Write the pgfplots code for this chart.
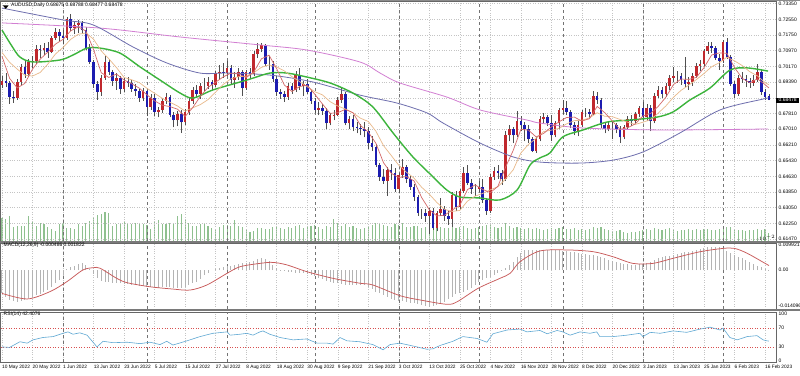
\documentclass[border=0pt]{standalone}
\usepackage{fontspec}
\setmainfont{Liberation Sans}
\usepackage{pgfplots}
\usepackage{pgfplotstable}
\pgfplotsset{compat=1.18}
\definecolor{bullc}{HTML}{C0282D}
\definecolor{bearc}{HTML}{1C1CB0}
\definecolor{wickc}{HTML}{505050}
\definecolor{volc}{HTML}{8FC08F}
\definecolor{gridc}{HTML}{C4C4C4}
\definecolor{sepc}{HTML}{7A7A7A}
\definecolor{maP}{HTML}{D27FD2}
\definecolor{maB}{HTML}{6E6EAE}
\definecolor{maG}{HTML}{3CB43C}
\definecolor{maT}{HTML}{E9B98A}
\definecolor{maR}{HTML}{D46A6A}
\definecolor{histc}{HTML}{B4B4B4}
\definecolor{sigc}{HTML}{C85A5A}
\definecolor{rsic}{HTML}{5FA8D3}
\definecolor{lvlc}{HTML}{D85050}
\newcommand\tf{\fontsize{5}{6}\selectfont}
\newcommand\df{\fontsize{4.8}{5.5}\selectfont}

\pgfplotstableread{
i o h l c v m
0 0.6925 0.6970 0.6910 0.6945 23 -0.0092
1 0.6945 0.6985 0.6915 0.6935 22 -0.0105
2 0.6935 0.6945 0.6830 0.6865 25 -0.0118
3 0.6865 0.6895 0.6835 0.6858 14 -0.0122
4 0.6858 0.6955 0.6850 0.6940 15 -0.0125
5 0.6940 0.7030 0.6925 0.7015 15 -0.0121
6 0.7015 0.7050 0.6960 0.6980 15 -0.0118
7 0.6980 0.7055 0.6965 0.7040 25 -0.0112
8 0.7040 0.7070 0.7010 0.7045 20 -0.0105
9 0.7045 0.7125 0.7030 0.7105 15 -0.0100
10 0.7105 0.7125 0.7060 0.7100 18 -0.0095
11 0.7100 0.7135 0.7075 0.7110 17 -0.0088
12 0.7110 0.7140 0.7060 0.7090 14 -0.0078
13 0.7090 0.7170 0.7085 0.7160 12 -0.0066
14 0.7160 0.7210 0.7150 0.7190 10 -0.0050
15 0.7190 0.7205 0.7145 0.7170 17 -0.0040
16 0.7170 0.7200 0.7130 0.7160 18 -0.0020
17 0.7160 0.7265 0.7150 0.7255 13 0.0005
18 0.7255 0.7283 0.7195 0.7210 13 0.0010
19 0.7210 0.7245 0.7180 0.7225 12 0.0015
20 0.7225 0.7250 0.7185 0.7235 17 0.0022
21 0.7235 0.7245 0.7180 0.7200 15 0.0026
22 0.7200 0.7215 0.7100 0.7110 18 0.0020
23 0.7110 0.7130 0.7030 0.7040 20 0.0002
24 0.7040 0.7050 0.6910 0.6930 23 -0.0015
25 0.6930 0.6945 0.6850 0.6890 26 -0.0033
26 0.6890 0.6975 0.6870 0.6960 27 -0.0042
27 0.6960 0.7070 0.6950 0.7040 29 -0.0046
28 0.7040 0.7055 0.6975 0.6990 28 -0.0048
29 0.6990 0.7000 0.6920 0.6945 15 -0.0050
30 0.6945 0.6985 0.6900 0.6960 17 -0.0050
31 0.6960 0.6970 0.6880 0.6905 18 -0.0052
32 0.6905 0.6960 0.6890 0.6945 20 -0.0054
33 0.6945 0.6965 0.6915 0.6935 17 -0.0056
34 0.6935 0.6950 0.6890 0.6905 17 -0.0058
35 0.6905 0.6930 0.6870 0.6895 18 -0.0060
36 0.6895 0.6905 0.6840 0.6860 18 -0.0062
37 0.6860 0.6910 0.6845 0.6895 17 -0.0064
38 0.6895 0.6900 0.6765 0.6815 16 -0.0066
39 0.6815 0.6880 0.6800 0.6860 12 -0.0068
40 0.6860 0.6880 0.6765 0.6790 20 -0.0068
41 0.6790 0.6815 0.6760 0.6800 21 -0.0070
42 0.6800 0.6860 0.6785 0.6845 17 -0.0068
43 0.6845 0.6885 0.6830 0.6865 17 -0.0066
44 0.6865 0.6875 0.6760 0.6775 18 -0.0068
45 0.6775 0.6790 0.6710 0.6745 18 -0.0070
46 0.6745 0.6795 0.6715 0.6780 25 -0.0070
47 0.6780 0.6800 0.6681 0.6735 27 -0.0070
48 0.6735 0.6805 0.6720 0.6790 22 -0.0066
49 0.6790 0.6865 0.6775 0.6845 18 -0.0060
50 0.6845 0.6915 0.6830 0.6900 15 -0.0052
51 0.6900 0.6925 0.6860 0.6880 15 -0.0046
52 0.6880 0.6935 0.6855 0.6920 17 -0.0036
53 0.6920 0.6960 0.6895 0.6920 17 -0.0020
54 0.6920 0.6965 0.6905 0.6940 15 -0.0010
55 0.6940 0.6950 0.6900 0.6925 13 0.0000
56 0.6925 0.6995 0.6915 0.6985 12 0.0005
57 0.6985 0.7025 0.6950 0.6990 14 0.0008
58 0.6990 0.7035 0.6960 0.6985 16 0.0012
59 0.6985 0.7045 0.6970 0.7010 16 0.0014
60 0.7010 0.7025 0.6925 0.6950 15 0.0016
61 0.6950 0.6990 0.6910 0.6965 21 0.0020
62 0.6965 0.7010 0.6950 0.6990 15 0.0024
63 0.6990 0.7000 0.6870 0.6910 14 0.0026
64 0.6910 0.7000 0.6900 0.6990 12 0.0028
65 0.6990 0.7010 0.6960 0.6980 9 0.0033
66 0.6980 0.7095 0.6970 0.7080 10 0.0036
67 0.7080 0.7135 0.7060 0.7105 13 0.0042
68 0.7105 0.7137 0.7090 0.7125 13 0.0046
69 0.7125 0.7130 0.7020 0.7030 12 0.0042
70 0.7030 0.7070 0.7000 0.7030 12 0.0034
71 0.7030 0.7045 0.6940 0.6955 14 0.0020
72 0.6955 0.6970 0.6870 0.6890 15 0.0006
73 0.6890 0.6905 0.6855 0.6880 13 -0.0002
74 0.6880 0.6895 0.6840 0.6865 12 -0.0005
75 0.6865 0.6935 0.6850 0.6920 14 -0.0007
76 0.6920 0.6935 0.6880 0.6900 13 -0.0009
77 0.6900 0.6995 0.6890 0.6975 15 -0.0011
78 0.6975 0.7010 0.6900 0.6920 16 -0.0012
79 0.6920 0.6945 0.6870 0.6930 13 -0.0013
80 0.6930 0.6955 0.6880 0.6890 14 -0.0014
81 0.6890 0.6900 0.6830 0.6845 15 -0.0018
82 0.6845 0.6860 0.6785 0.6800 16 -0.0024
83 0.6800 0.6840 0.6770 0.6810 14 -0.0030
84 0.6810 0.6830 0.6775 0.6795 12 -0.0036
85 0.6795 0.6810 0.6700 0.6730 15 -0.0042
86 0.6730 0.6785 0.6720 0.6770 14 -0.0046
87 0.6770 0.6800 0.6745 0.6775 22 -0.0050
88 0.6775 0.6865 0.6765 0.6850 18 -0.0052
89 0.6850 0.6915 0.6835 0.6880 15 -0.0055
90 0.6880 0.6890 0.6720 0.6730 17 -0.0058
91 0.6730 0.6765 0.6700 0.6750 14 -0.0059
92 0.6750 0.6770 0.6690 0.6710 15 -0.0059
93 0.6710 0.6735 0.6680 0.6705 13 -0.0059
94 0.6705 0.6725 0.6670 0.6700 12 -0.0060
95 0.6700 0.6735 0.6660 0.6690 13 -0.0060
96 0.6690 0.6710 0.6600 0.6630 15 -0.0066
97 0.6630 0.6665 0.6590 0.6610 16 -0.0075
98 0.6610 0.6625 0.6510 0.6520 18 -0.0085
99 0.6520 0.6530 0.6440 0.6460 17 -0.0092
100 0.6460 0.6500 0.6425 0.6440 16 -0.0100
101 0.6440 0.6510 0.6365 0.6495 15 -0.0108
102 0.6495 0.6525 0.6445 0.6480 14 -0.0113
103 0.6480 0.6505 0.6385 0.6400 17 -0.0118
104 0.6400 0.6480 0.6380 0.6470 16 -0.0122
105 0.6470 0.6550 0.6455 0.6510 18 -0.0124
106 0.6510 0.6520 0.6430 0.6450 14 -0.0126
107 0.6450 0.6465 0.6395 0.6410 14 -0.0128
108 0.6410 0.6425 0.6340 0.6360 15 -0.0130
109 0.6360 0.6370 0.6265 0.6280 15 -0.0132
110 0.6280 0.6300 0.6250 0.6280 13 -0.0136
111 0.6280 0.6300 0.6235 0.6265 14 -0.0140
112 0.6265 0.6305 0.6170 0.6290 17 -0.0144
113 0.6290 0.6305 0.6190 0.6200 16 -0.0142
114 0.6200 0.6290 0.6185 0.6280 13 -0.0138
115 0.6280 0.6355 0.6265 0.6300 14 -0.0132
116 0.6300 0.6315 0.6240 0.6265 13 -0.0125
117 0.6265 0.6290 0.6220 0.6250 13 -0.0115
118 0.6250 0.6385 0.6210 0.6370 15 -0.0105
119 0.6370 0.6390 0.6290 0.6310 13 -0.0096
120 0.6310 0.6400 0.6295 0.6390 14 -0.0090
121 0.6390 0.6510 0.6380 0.6480 15 -0.0085
122 0.6480 0.6520 0.6420 0.6430 13 -0.0078
123 0.6430 0.6450 0.6375 0.6400 12 -0.0072
124 0.6400 0.6425 0.6365 0.6400 13 -0.0060
125 0.6400 0.6440 0.6385 0.6410 14 -0.0046
126 0.6410 0.6450 0.6330 0.6345 15 -0.0040
127 0.6345 0.6355 0.6270 0.6290 16 -0.0033
128 0.6290 0.6475 0.6280 0.6460 17 -0.0026
129 0.6460 0.6510 0.6445 0.6490 14 -0.0020
130 0.6490 0.6520 0.6450 0.6480 13 -0.0013
131 0.6480 0.6495 0.6420 0.6450 14 -0.0005
132 0.6450 0.6690 0.6440 0.6670 18 0.0007
133 0.6670 0.6720 0.6640 0.6700 15 0.0020
134 0.6700 0.6710 0.6630 0.6670 13 0.0033
135 0.6670 0.6795 0.6660 0.6740 14 0.0050
136 0.6740 0.6765 0.6690 0.6720 13 0.0066
137 0.6720 0.6735 0.6640 0.6700 12 0.0079
138 0.6700 0.6720 0.6630 0.6650 13 0.0080
139 0.6650 0.6660 0.6585 0.6590 12 0.0080
140 0.6590 0.6660 0.6580 0.6650 13 0.0080
141 0.6650 0.6765 0.6640 0.6750 12 0.0079
142 0.6750 0.6785 0.6730 0.6760 11 0.0079
143 0.6760 0.6775 0.6715 0.6730 12 0.0079
144 0.6730 0.6770 0.6640 0.6670 13 0.0079
145 0.6670 0.6740 0.6660 0.6730 12 0.0078
146 0.6730 0.6810 0.6700 0.6800 13 0.0077
147 0.6800 0.6850 0.6780 0.6810 14 0.0076
148 0.6810 0.6845 0.6770 0.6790 12 0.0075
149 0.6790 0.6800 0.6705 0.6720 12 0.0072
150 0.6720 0.6735 0.6670 0.6690 13 0.0070
151 0.6690 0.6740 0.6665 0.6720 11 0.0066
152 0.6720 0.6800 0.6710 0.6790 12 0.0064
153 0.6790 0.6810 0.6760 0.6790 11 0.0062
154 0.6790 0.6805 0.6755 0.6780 12 0.0060
155 0.6780 0.6895 0.6770 0.6870 14 0.0059
156 0.6870 0.6890 0.6830 0.6850 13 0.0055
157 0.6850 0.6860 0.6705 0.6720 14 0.0050
158 0.6720 0.6735 0.6680 0.6700 12 0.0046
159 0.6700 0.6735 0.6690 0.6720 11 0.0040
160 0.6720 0.6740 0.6650 0.6720 10 0.0034
161 0.6720 0.6730 0.6680 0.6700 10 0.0030
162 0.6700 0.6715 0.6630 0.6660 11 0.0026
163 0.6660 0.6720 0.6650 0.6710 9 0.0024
164 0.6710 0.6765 0.6700 0.6750 8 0.0022
165 0.6750 0.6770 0.6715 0.6740 9 0.0020
166 0.6740 0.6790 0.6730 0.6780 9 0.0020
167 0.6780 0.6820 0.6760 0.6810 10 0.0022
168 0.6810 0.6840 0.6745 0.6760 11 0.0024
169 0.6760 0.6830 0.6740 0.6810 12 0.0026
170 0.6810 0.6825 0.6690 0.6740 11 0.0032
171 0.6740 0.6885 0.6730 0.6870 13 0.0040
172 0.6870 0.6920 0.6860 0.6900 12 0.0046
173 0.6900 0.6915 0.6860 0.6880 11 0.0050
174 0.6880 0.6935 0.6865 0.6920 12 0.0054
175 0.6920 0.6975 0.6900 0.6960 13 0.0057
176 0.6960 0.7015 0.6940 0.6970 12 0.0059
177 0.6970 0.6995 0.6935 0.6970 10 0.0063
178 0.6970 0.6985 0.6925 0.6950 11 0.0066
179 0.6950 0.7065 0.6915 0.6930 11 0.0070
180 0.6930 0.6965 0.6900 0.6940 12 0.0072
181 0.6940 0.6985 0.6920 0.6970 11 0.0075
182 0.6970 0.7035 0.6960 0.7020 12 0.0078
183 0.7020 0.7050 0.6995 0.7030 11 0.0083
184 0.7030 0.7105 0.7015 0.7095 12 0.0086
185 0.7095 0.7142 0.7080 0.7120 12 0.0089
186 0.7120 0.7140 0.7085 0.7110 11 0.0092
187 0.7110 0.7120 0.7050 0.7060 11 0.0092
188 0.7060 0.7080 0.7000 0.7045 12 0.0092
189 0.7045 0.7150 0.7035 0.7140 13 0.0085
190 0.7140 0.7161 0.7055 0.7065 14 0.0075
191 0.7065 0.7075 0.6920 0.6930 14 0.0065
192 0.6930 0.6945 0.6858 0.6880 12 0.0059
193 0.6880 0.6975 0.6870 0.6960 11 0.0052
194 0.6960 0.6990 0.6935 0.6955 11 0.0046
195 0.6955 0.6975 0.6915 0.6945 10 0.0040
196 0.6945 0.6960 0.6910 0.6935 11 0.0033
197 0.6935 0.6975 0.6920 0.6950 11 0.0022
198 0.6950 0.7030 0.6940 0.6990 12 0.0017
199 0.6990 0.7000 0.6875 0.6890 11 0.0010
200 0.6890 0.6905 0.6850 0.6865 12 0.0003
201 0.68675 0.68788 0.68477 0.68478 8 -0.0005
}\bars

\pgfplotsset{
  mtpanel/.style={
    scale only axis, width=776pt,
    xmin=-0.524, xmax=202.88,
    axis line style={black!60, line width=0.5pt},
    xtick={0,8,...,200},
    xticklabels={},
    xmajorgrids,
    grid style={gridc, dotted, line width=0.45pt},
    extra x ticks={16,38,59,82,104,125,147,168,189},
    extra x tick labels={},
    extra x tick style={grid=major, major grid style={black!55, dashed, line width=0.5pt}},
    major tick length=0pt,
    ytick pos=right, yticklabel pos=right,
    yticklabel style={font=\tf, anchor=west, inner sep=0pt, xshift=2.5pt},
    /pgf/number format/assume math mode=true,
  },
  candle/.style 2 args={draw=none, mark=none, forget plot,
    error bars/.cd, y dir=plus, y explicit, error mark=none,
    error bar style={draw=#1, solid, line width=#2}},
}

\begin{document}
\begin{tikzpicture}[x=1pt,y=1pt]
\useasboundingbox (0,0) rectangle (800,375);
\fill[white] (0,0) rectangle (800,375);

% volume (own scale, in points of height)
\begin{axis}[scale only axis, width=776pt, height=240pt, at={(0pt,134pt)}, anchor=south west,
  xmin=-0.524, xmax=202.88, ymin=0, ymax=240, axis lines=none]
\addplot[ycomb, volc, line width=1.1pt, mark=none] table[x=i, y=v]{\bars};
\end{axis}

% price panel
\begin{axis}[mtpanel, at={(0pt,134pt)}, anchor=south west, height=240pt,
  ymin=0.61369, ymax=0.73476, ymajorgrids, clip mode=individual,
  ytick={0.7335,0.7255,0.7175,0.7097,0.7017,0.6939,0.6859,0.6781,0.6701,0.6621,0.6543,0.6463,0.6385,0.6305,0.6225,0.6147},
  yticklabels={0.73350,0.72550,0.71750,0.70970,0.70170,0.69390,{},0.67810,0.67010,0.66210,0.65430,0.64630,0.63850,0.63050,0.62250,0.61470}]
\addplot[candle={wickc}{0.5pt}]
  table[x=i, y=l, y error plus expr={\thisrow{h}-\thisrow{l}}]{\bars};
\addplot[restrict expr to domain={\thisrow{c}-\thisrow{o}}{0:1}, candle={bullc}{2.6pt}]
  table[x=i, y=o, y error plus expr={\thisrow{c}-\thisrow{o}}]{\bars};
\addplot[restrict expr to domain={\thisrow{o}-\thisrow{c}}{0.000001:1}, candle={bearc}{2.6pt}]
  table[x=i, y=c, y error plus expr={\thisrow{o}-\thisrow{c}}]{\bars};
% long moving averages
\addplot[maP, line width=0.8pt, smooth] coordinates {(0,0.7237)(25.7,0.7211)(46.7,0.7166)(67.6,0.7126)(80,0.7100)(93.8,0.7040)(99.1,0.6984)(104.3,0.6934)(116.6,0.6863)(125.3,0.6798)(137.6,0.6747)(141,0.6732)(152.3,0.6707)(173.3,0.6697)(200.8,0.6702)};
\addplot[maB, line width=0.8pt, smooth] coordinates {(0,0.7312)(16,0.7252)(23.9,0.7227)(34.3,0.7116)(43.2,0.7035)(51.9,0.6984)(59,0.6984)(70.2,0.6974)(81.5,0.6939)(93.8,0.6873)(103.5,0.6833)(111.4,0.6783)(115.6,0.6732)(125.3,0.6631)(134,0.6561)(141,0.6535)(151.5,0.6530)(160.2,0.6545)(168,0.6586)(177.7,0.6682)(188.2,0.6798)(199.5,0.6853)(200.8,0.6858)};
\addplot[maG, line width=1.4pt, smooth] coordinates {(0,0.7201)(2.4,0.7126)(4.7,0.7065)(8.1,0.7040)(15.2,0.7050)(18.6,0.7075)(22.3,0.7110)(25.7,0.7110)(30.9,0.7085)(36.2,0.7015)(41.4,0.6949)(46.7,0.6883)(50.1,0.6858)(55.3,0.6899)(64.2,0.6949)(70.2,0.6984)(74.7,0.6984)(79.9,0.6964)(86,0.6934)(92,0.6883)(97.2,0.6813)(102.5,0.6682)(107.7,0.6561)(113,0.6460)(116.6,0.6394)(120,0.6359)(125.3,0.6354)(130.5,0.6344)(135,0.6394)(138.4,0.6520)(141,0.6556)(143.6,0.6581)(147,0.6662)(152.3,0.6697)(158.6,0.6737)(164.6,0.6747)(171.7,0.6762)(175.9,0.6788)(180.3,0.6848)(185.6,0.6909)(190.8,0.6999)(195.3,0.7010)(200.8,0.6994)};
% short moving averages
\addplot[maT, line width=0.7pt] coordinates {(0,0.7088)(2,0.7038)(4,0.7004)(6,0.6973)(8,0.6969)(10,0.6987)(12,0.7029)(14,0.7080)(16,0.7113)(18,0.7154)(20,0.7180)(22,0.7186)(24,0.7155)(26,0.7096)(28,0.7056)(30,0.7012)(32,0.6962)(34,0.6950)(36,0.6936)(38,0.6907)(40,0.6882)(42,0.6857)(44,0.6837)(46,0.6818)(48,0.6792)(50,0.6809)(52,0.6825)(54,0.6850)(56,0.6888)(58,0.6927)(60,0.6955)(62,0.6966)(64,0.6968)(66,0.6986)(68,0.7013)(70,0.7025)(72,0.7015)(74,0.6995)(76,0.6966)(78,0.6941)(80,0.6915)(82,0.6890)(84,0.6874)(86,0.6840)(88,0.6818)(90,0.6803)(92,0.6783)(94,0.6756)(96,0.6740)(98,0.6691)(100,0.6618)(102,0.6569)(104,0.6519)(106,0.6484)(108,0.6454)(110,0.6408)(112,0.6373)(114,0.6331)(116,0.6296)(118,0.6286)(120,0.6291)(122,0.6338)(124,0.6363)(126,0.6377)(128,0.6395)(130,0.6411)(132,0.6450)(134,0.6496)(136,0.6581)(138,0.6624)(140,0.6655)(142,0.6689)(144,0.6696)(146,0.6705)(148,0.6728)(150,0.6744)(152,0.6746)(154,0.6758)(156,0.6784)(158,0.6766)(160,0.6764)(162,0.6750)(164,0.6736)(166,0.6725)(168,0.6736)(170,0.6749)(172,0.6782)(174,0.6818)(176,0.6862)(178,0.6897)(180,0.6923)(182,0.6951)(184,0.6982)(186,0.7016)(188,0.7036)(190,0.7064)(192,0.7046)(194,0.7022)(196,0.6991)(198,0.6970)(200,0.6936)(201,0.6925)};
\addplot[maR, line width=0.7pt] coordinates {(0,0.7069)(2,0.6957)(4,0.6909)(6,0.6932)(8,0.7004)(10,0.7054)(12,0.7090)(14,0.7130)(16,0.7154)(18,0.7197)(20,0.7217)(22,0.7196)(24,0.7103)(26,0.6986)(28,0.6962)(30,0.6979)(32,0.6949)(34,0.6930)(36,0.6908)(38,0.6874)(40,0.6844)(42,0.6822)(44,0.6815)(46,0.6802)(48,0.6765)(50,0.6810)(52,0.6867)(54,0.6912)(56,0.6938)(58,0.6965)(60,0.6984)(62,0.6980)(64,0.6961)(66,0.6990)(68,0.7056)(70,0.7074)(72,0.7006)(74,0.6924)(76,0.6891)(78,0.6916)(80,0.6923)(82,0.6877)(84,0.6828)(86,0.6781)(88,0.6784)(90,0.6801)(92,0.6784)(94,0.6719)(96,0.6687)(98,0.6630)(100,0.6532)(102,0.6479)(104,0.6457)(106,0.6462)(108,0.6440)(110,0.6356)(112,0.6295)(114,0.6263)(116,0.6267)(118,0.6293)(120,0.6317)(122,0.6396)(124,0.6420)(126,0.6397)(128,0.6381)(130,0.6413)(132,0.6510)(134,0.6594)(136,0.6700)(138,0.6696)(140,0.6662)(142,0.6680)(144,0.6712)(146,0.6738)(148,0.6760)(150,0.6762)(152,0.6742)(154,0.6754)(156,0.6816)(158,0.6784)(160,0.6742)(162,0.6700)(164,0.6708)(166,0.6728)(168,0.6768)(170,0.6780)(172,0.6816)(174,0.6862)(176,0.6926)(178,0.6954)(180,0.6952)(182,0.6962)(184,0.7011)(186,0.7075)(188,0.7086)(190,0.7084)(192,0.7012)(194,0.6958)(196,0.6935)(198,0.6955)(200,0.6926)(201,0.6909)};
\node[fill=black, text=white, font=\tf, inner sep=0.8pt, anchor=west, minimum width=23pt]
  at ({rel axis cs:1,0}|-{axis cs:0,0.68478}) {0.68478};
\end{axis}

% MACD panel
\begin{axis}[mtpanel, at={(0pt,66pt)}, anchor=south west, height=66pt,
  ymin=-0.015354, ymax=0.010630,
  ytick={0.009921,0,-0.014096}, yticklabels={0.009921,0.00,-0.014096}]
\addplot[ycomb, histc, line width=1pt, mark=none] table[x=i, y=m]{\bars};
\addplot[sigc, line width=0.75pt, smooth] coordinates {(0,-0.0092)(6.6,-0.0114)(12.6,-0.0085)(17,-0.0046)(21.2,0)(23.9,0.0009)(25.7,0.0007)(30.1,-0.0033)(32.8,-0.0050)(38.8,-0.0066)(44.8,-0.0075)(49.3,-0.0079)(53.7,-0.0059)(59,-0.0013)(62.4,0.0013)(67.6,0.0026)(71,0.0030)(74.7,0.0020)(80,-0.0007)(86.8,-0.0033)(93.8,-0.0052)(97.2,-0.0059)(104.3,-0.0101)(109.6,-0.0118)(116.6,-0.0135)(119.3,-0.0125)(124.8,-0.0072)(130.5,-0.0033)(133.2,-0.0013)(135.8,0.0033)(141,0.0075)(148.1,0.0079)(155,0.0072)(160.2,0.0052)(165.4,0.0026)(170.6,0.0026)(175.9,0.0046)(183,0.0072)(189,0.0085)(192,0.0085)(195.3,0.0066)(200.5,0.0022)(201,0.0018)};
\end{axis}

% RSI panel
\begin{axis}[mtpanel, at={(0pt,13pt)}, anchor=south west, height=50pt,
  ymin=-2.1, ymax=104.3, ytick={0,30,70,100}, yticklabels={0,30,70,100},
  xticklabels={10 May 2022,20 May 2022,1 Jun 2022,13 Jun 2022,23 Jun 2022,5 Jul 2022,15 Jul 2022,27 Jul 2022,8 Aug 2022,18 Aug 2022,30 Aug 2022,9 Sep 2022,21 Sep 2022,3 Oct 2022,13 Oct 2022,25 Oct 2022,4 Nov 2022,16 Nov 2022,28 Nov 2022,8 Dec 2022,20 Dec 2022,3 Jan 2023,13 Jan 2023,25 Jan 2023,6 Feb 2023,16 Feb 2023},
  xticklabel style={font=\df, anchor=north west, inner sep=0pt, yshift=-2.8pt}]
\addplot[lvlc, dotted, line width=0.6pt] coordinates {(-1,70)(204,70)};
\addplot[lvlc, dotted, line width=0.6pt] coordinates {(-1,30)(204,30)};
\addplot[rsic, line width=0.6pt] coordinates {(0,30)(2,29)(4.7,41)(6.6,38)(8.1,45)(10.7,50)(13.4,52)(16,59)(17.3,62)(18.6,57)(20.4,60)(22.3,55)(24.9,30)(26.5,42)(29.1,39)(32.8,40)(36.2,37)(38.8,40)(41.4,35)(43.2,42)(44.8,34)(48.5,43)(51.9,52)(55.3,59)(59,62)(59.8,55)(62.4,57)(64.2,59)(65.8,55)(67.6,62)(68.4,64)(70.2,57)(72.9,50)(76.3,45)(79.9,47)(82.6,38)(85.2,38)(86.8,36)(88.6,50)(90.4,43)(93.8,41)(97.2,35)(99.9,24)(101.7,35)(104.3,38)(107.7,32)(111.4,25)(113,26)(114.8,33)(118.2,42)(120.8,52)(124.5,48)(127.1,40)(128.7,58)(132.4,66)(135.8,68)(137.6,62)(141,65)(142.9,58)(145.5,65)(147,62)(148.9,55)(151.5,62)(154.1,59)(155.9,62)(156.7,52)(160.2,52)(163.8,55)(167.2,59)(168,52)(169.9,61)(172.5,59)(175.9,64)(179.5,61)(183,68)(185.6,72)(188.2,66)(189,70)(190.8,50)(192.7,45)(195.3,52)(197.9,54)(199.5,45)(200.5,43)(201,42.4)};
\end{axis}

% panel separators and frame
\fill[sepc] (0,132.4) rectangle (800,134);
\fill[sepc] (0,64.2) rectangle (800,65.8);
\fill[black!45] (0,373.6) rectangle (800,375);
% title and indicator captions
\fill[black] (3,369.5) -- (8.5,369.5) -- (5.75,366) -- cycle;
\node[anchor=west, inner sep=0pt, font=\tf] at (11,370) {AUDUSD,Daily 0.68675 0.68788 0.68477 0.68478};
\node[anchor=west, inner sep=0pt, font=\tf] at (3.5,129.5) {MACD(12,26,9) -0.000486 0.001822};
\node[anchor=west, inner sep=0pt, font=\tf] at (3.5,60.5) {RSI(14) 42.4076};
\end{tikzpicture}
\end{document}
